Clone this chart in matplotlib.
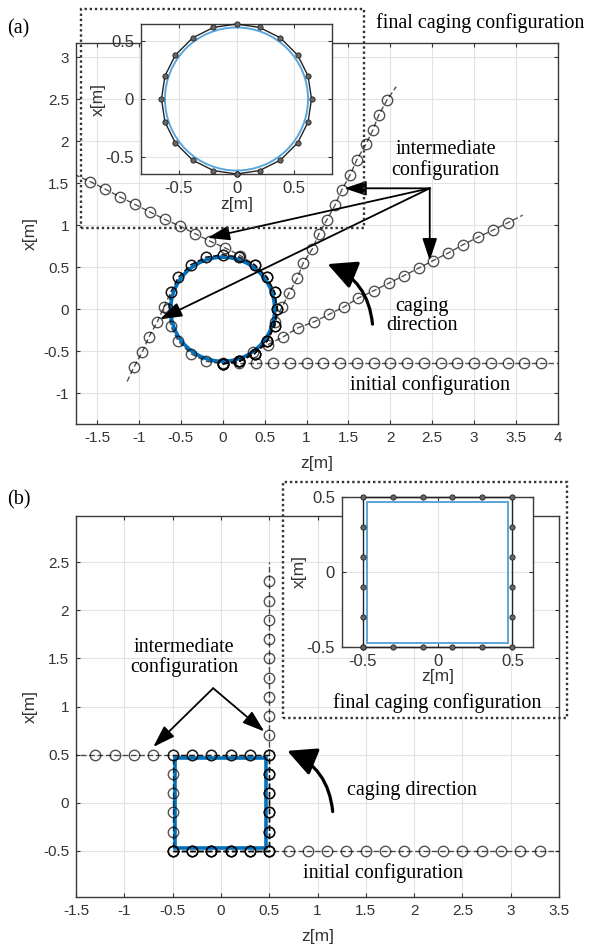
import matplotlib
matplotlib.use('Agg')
import matplotlib.pyplot as plt
from matplotlib.patches import Circle, Rectangle, FancyArrowPatch

plt.rcParams['axes.unicode_minus'] = False

# ---------------- data: panel (a) ----------------
ring_z = [0.00, 0.20, 0.38, 0.53, 0.62, 0.65, 0.62, 0.53, 0.38, 0.20, 0.00,
          -0.20, -0.38, -0.53, -0.62, -0.65, -0.62, -0.53, -0.38, -0.20, 0.00]
ring_x = [-0.65, -0.62, -0.53, -0.38, -0.20, 0.00, 0.20, 0.38, 0.53, 0.62, 0.65,
          0.62, 0.53, 0.38, 0.20, 0.00, -0.20, -0.38, -0.53, -0.62, -0.65]
obj_radius = 0.62

a_init_z = [0.0, 0.2, 0.4, 0.6, 0.8, 1.0, 1.2, 1.4, 1.6, 1.8, 2.0, 2.2, 2.4, 2.6,
            2.8, 3.0, 3.2, 3.4, 3.6, 3.8, 4.0]
a_init_x = [-0.64, -0.64, -0.64, -0.64, -0.64, -0.64, -0.64, -0.64, -0.64, -0.64,
            -0.64, -0.64, -0.64, -0.64, -0.64, -0.64, -0.64, -0.64, -0.64, -0.64, -0.64]

a_B_z = ring_z[:2] + [0.36, 0.54, 0.72, 0.90, 1.09, 1.27, 1.45, 1.61, 1.80, 1.98,
                      2.16, 2.34, 2.51, 2.69, 2.87, 3.05, 3.22, 3.40, 3.58]
a_B_x = ring_x[:2] + [-0.51, -0.42, -0.33, -0.22, -0.15, -0.06, 0.03, 0.13, 0.22,
                      0.31, 0.40, 0.49, 0.58, 0.67, 0.77, 0.86, 0.94, 1.03, 1.12]

a_C_z = ring_z[:4] + [0.62, 0.71, 0.79, 0.89, 0.96, 1.07, 1.15, 1.24, 1.34, 1.42,
                      1.52, 1.60, 1.71, 1.79, 1.86, 1.96, 2.07]
a_C_x = ring_x[:4] + [-0.15, 0.03, 0.19, 0.37, 0.55, 0.72, 0.90, 1.06, 1.24, 1.42,
                      1.60, 1.78, 1.97, 2.13, 2.31, 2.49, 2.65]

a_D_z = ring_z[:9] + [0.21, 0.03, -0.15, -0.33, -0.51, -0.69, -0.87, -1.05, -1.23,
                      -1.40, -1.58, -1.76]
a_D_x = ring_x[:9] + [0.64, 0.73, 0.81, 0.90, 0.99, 1.07, 1.16, 1.25, 1.34, 1.43,
                      1.52, 1.60]

a_E_z = ring_z[:15] + [-0.70, -0.78, -0.88, -0.96, -1.06, -1.14]
a_E_x = ring_x[:15] + [0.03, -0.15, -0.33, -0.51, -0.69, -0.86]

a_final_z = ring_z
a_final_x = ring_x

a_xticks = [-1.5, -1, -0.5, 0, 0.5, 1, 1.5, 2, 2.5, 3, 3.5, 4]
a_yticks = [-1, -0.5, 0, 0.5, 1, 1.5, 2, 2.5, 3]
inset_ticks = [-0.5, 0, 0.5]

# ---------------- data: panel (b) ----------------
sq_z = [-0.5, -0.3, -0.1, 0.1, 0.3, 0.5, 0.5, 0.5, 0.5, 0.5, 0.5, 0.3, 0.1, -0.1,
        -0.3, -0.5, -0.5, -0.5, -0.5, -0.5, -0.5]
sq_x = [-0.5, -0.5, -0.5, -0.5, -0.5, -0.5, -0.3, -0.1, 0.1, 0.3, 0.5, 0.5, 0.5,
        0.5, 0.5, 0.5, 0.3, 0.1, -0.1, -0.3, -0.5]
obj_half = 0.47

b_init_z = [-0.5, -0.3, -0.1, 0.1, 0.3, 0.5, 0.7, 0.9, 1.1, 1.3, 1.5, 1.7, 1.9, 2.1,
            2.3, 2.5, 2.7, 2.9, 3.1, 3.3, 3.5]
b_init_x = [-0.5, -0.5, -0.5, -0.5, -0.5, -0.5, -0.5, -0.5, -0.5, -0.5, -0.5, -0.5,
            -0.5, -0.5, -0.5, -0.5, -0.5, -0.5, -0.5, -0.5, -0.5]

b_mid1_z = sq_z[:6] + [0.5, 0.5, 0.5, 0.5, 0.5, 0.5, 0.5, 0.5, 0.5, 0.5, 0.5, 0.5,
                       0.5, 0.5, 0.5]
b_mid1_x = sq_x[:6] + [-0.3, -0.1, 0.1, 0.3, 0.5, 0.7, 0.9, 1.1, 1.3, 1.5, 1.7, 1.9,
                       2.1, 2.3, 2.5]

b_mid2_z = sq_z[:11] + [0.3, 0.1, -0.1, -0.3, -0.5, -0.7, -0.9, -1.1, -1.3, -1.5]
b_mid2_x = sq_x[:11] + [0.5, 0.5, 0.5, 0.5, 0.5, 0.5, 0.5, 0.5, 0.5, 0.5]

b_final_z = sq_z
b_final_x = sq_x

b_xticks = [-1.5, -1, -0.5, 0, 0.5, 1, 1.5, 2, 2.5, 3, 3.5]
b_yticks = [-0.5, 0, 0.5, 1, 1.5, 2, 2.5]

# ---------------- figure ----------------
W, H = 591, 948
fig = plt.figure(figsize=(W / 100, H / 100), dpi=100)

SANS = 'Liberation Sans'
SERIF = 'Liberation Serif'
TXT = '#333333'
BLUE = '#0072BD'
LBLUE = '#5aa6dc'


def box(l, t, r, b):
    return [l / W, 1 - b / H, (r - l) / W, (b - t) / H]


def style(ax, xt, yt, xlim, ylim, fs):
    ax.set_xlim(xlim)
    ax.set_ylim(ylim)
    ax.set_xticks(xt)
    ax.set_yticks(yt)
    ax.set_xticklabels(['%g' % v for v in xt], fontfamily=SANS, fontsize=fs)
    ax.set_yticklabels(['%g' % v for v in yt], fontfamily=SANS, fontsize=fs)
    ax.tick_params(direction='in', top=True, right=True, length=3, width=0.8,
                   colors=TXT, labelcolor=TXT, pad=5)
    ax.grid(True, color='#e3e3e3', lw=0.8)
    ax.set_axisbelow(True)
    for s in ax.spines.values():
        s.set_color('#3a3a3a')
        s.set_linewidth(1.0)


def chain(ax, z, x):
    ax.plot(z, x, ls=(0, (4, 2)), lw=1.0, color='black', alpha=0.68,
            marker='o', ms=7.5, mfc='none', mec='black', mew=1.0,
            markevery=list(range(len(z) - 1)), zorder=3)


def arrow(ax, tail, head, lw=1.3, ms=15):
    ax.annotate('', xy=head, xytext=tail,
                arrowprops=dict(arrowstyle='-|>,head_length=0.9,head_width=0.3',
                                lw=lw, color='black', shrinkA=0, shrinkB=0,
                                mutation_scale=ms), zorder=6)


def curved(ax, tail, head, rad):
    p = FancyArrowPatch(tail, head, connectionstyle='arc3,rad=%g' % rad,
                        arrowstyle='-|>,head_length=0.8,head_width=0.4',
                        mutation_scale=22, lw=2.3, color='black', zorder=6)
    ax.add_patch(p)


# ---------- panel (a) main ----------
axa = fig.add_axes(box(76, 43, 558, 424))
style(axa, a_xticks, a_yticks, (-1.75, 4.0), (-1.366, 3.17), 11)
axa.add_patch(Circle((0, 0), obj_radius, fill=False, ec=BLUE, lw=2.6, zorder=2))
for z, x in [(a_init_z, a_init_x), (a_B_z, a_B_x), (a_C_z, a_C_x),
             (a_D_z, a_D_x), (a_E_z, a_E_x), (a_final_z, a_final_x)]:
    chain(axa, z, x)
axa.set_xlabel('z[m]', fontfamily=SANS, fontsize=12.5, color=TXT, labelpad=8)
axa.set_ylabel('x[m]', fontfamily=SANS, fontsize=12.5, color=TXT, labelpad=4)

tail_a = (2.47, 1.44)
arrow(axa, tail_a, (1.45, 1.44))
arrow(axa, tail_a, (2.47, 0.58))
arrow(axa, tail_a, (-0.18, 0.85))
arrow(axa, tail_a, (-0.75, -0.12))
curved(axa, (1.79, -0.21), (1.22, 0.55), 0.32)

axa.text(2.66, 1.78, 'intermediate\nconfiguration', fontfamily=SERIF, fontsize=14.5,
         ha='center', va='center', linespacing=1.05, zorder=7)
axa.text(2.38, -0.08, 'caging\ndirection', fontfamily=SERIF, fontsize=14.5,
         ha='center', va='center', linespacing=1.05, zorder=7)
axa.text(2.47, -0.90, 'initial configuration', fontfamily=SERIF, fontsize=14.5,
         ha='center', va='center', zorder=7)

# ---------- panel (a) inset ----------
ina = fig.add_axes(box(141, 24, 332, 174))
ina.set_facecolor('white')
style(ina, inset_ticks, inset_ticks, (-0.8275, 0.8275), (-0.65, 0.65), 12)
ina.add_patch(Circle((0, 0), obj_radius, fill=False, ec=LBLUE, lw=1.4, zorder=2))
ina.plot(ring_z, ring_x, color='#222222', lw=1.0, marker='o', ms=3.8,
         mfc='#666666', mec='#222222', mew=0.6, zorder=3, clip_on=False)
ina.set_xlabel('z[m]', fontfamily=SANS, fontsize=12.5, color=TXT, labelpad=1)
ina.set_ylabel('x[m]', fontfamily=SANS, fontsize=12.5, color=TXT, labelpad=0)

# ---------- panel (b) main ----------
axb = fig.add_axes(box(76, 516, 559, 897))
style(axb, b_xticks, b_yticks, (-1.5, 3.5), (-0.978, 2.978), 11)
axb.add_patch(Rectangle((-obj_half, -obj_half), 2 * obj_half, 2 * obj_half,
                        fill=False, ec=BLUE, lw=2.6, zorder=2))
for z, x in [(b_init_z, b_init_x), (b_mid1_z, b_mid1_x), (b_mid2_z, b_mid2_x),
             (b_final_z, b_final_x)]:
    chain(axb, z, x)
axb.set_xlabel('z[m]', fontfamily=SANS, fontsize=12.5, color=TXT, labelpad=8)
axb.set_ylabel('x[m]', fontfamily=SANS, fontsize=12.5, color=TXT, labelpad=4)

apex_b = (-0.08, 1.19)
arrow(axb, apex_b, (-0.70, 0.58))
arrow(axb, apex_b, (0.45, 0.74))
curved(axb, (1.16, -0.12), (0.66, 0.55), 0.32)
axb.text(-0.38, 1.51, 'intermediate\nconfiguration', fontfamily=SERIF, fontsize=14.5,
         ha='center', va='center', linespacing=1.05, zorder=7)
axb.text(1.98, 0.13, 'caging direction', fontfamily=SERIF, fontsize=14.5,
         ha='center', va='center', zorder=7)
axb.text(1.68, -0.73, 'initial configuration', fontfamily=SERIF, fontsize=14.5,
         ha='center', va='center', zorder=7)

# ---------- panel (b) inset ----------
inb = fig.add_axes(box(342, 497, 533, 647))
inb.set_facecolor('white')
style(inb, inset_ticks, inset_ticks, (-0.637, 0.637), (-0.5, 0.5), 12)
inb.add_patch(Rectangle((-obj_half, -obj_half), 2 * obj_half, 2 * obj_half,
                        fill=False, ec=LBLUE, lw=1.4, zorder=2))
inb.plot(sq_z, sq_x, color='#222222', lw=1.0, marker='o', ms=3.8,
         mfc='#666666', mec='#222222', mew=0.6, zorder=3, clip_on=False)
inb.set_xlabel('z[m]', fontfamily=SANS, fontsize=12.5, color=TXT, labelpad=0)
inb.set_ylabel('x[m]', fontfamily=SANS, fontsize=12.5, color=TXT, labelpad=0)

# ---------- figure-level decorations ----------
for (l, t, r, b) in [(81, 9, 364, 228), (283, 482, 567, 718)]:
    fig.add_artist(Rectangle((l / W, 1 - b / H), (r - l) / W, (b - t) / H,
                             transform=fig.transFigure, fill=False,
                             ls=(0, (1, 1.2)), lw=1.7, ec='#333333', zorder=10))

fig.text(480 / W, 1 - 23 / H, 'final caging configuration', fontfamily=SERIF,
         fontsize=14.5, ha='center', va='center')
fig.text(437 / W, 1 - 703 / H, 'final caging configuration', fontfamily=SERIF,
         fontsize=14.5, ha='center', va='center')
fig.text(18 / W, 1 - 29 / H, '(a)', fontfamily=SERIF, fontsize=14.5,
         ha='center', va='center')
fig.text(19 / W, 1 - 500 / H, '(b)', fontfamily=SERIF, fontsize=14.5,
         ha='center', va='center')

fig.savefig('out.png', dpi=100)
